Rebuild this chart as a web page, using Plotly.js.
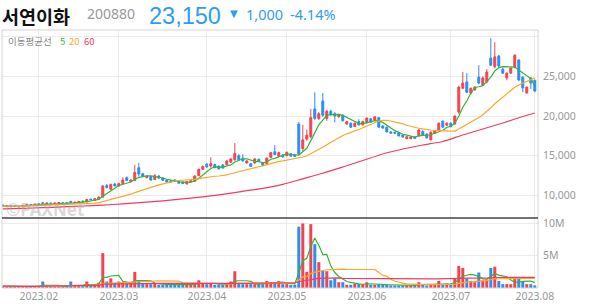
<!DOCTYPE html>
<html><head><meta charset="utf-8">
<script src="https://cdn.plot.ly/plotly-3.0.1.min.js"></script>
<style>html,body{margin:0;padding:0;background:#fff;overflow:hidden}#chart{width:594px;height:304px}</style>
</head><body><div id="chart"></div>
<script>
// ---- trading days (categories) ----
const janDays=[17,18,19,20,25,26,27,30,31];
const febDays=[1,2,3,6,7,8,9,10,13,14,15,16,17,20,21,22,23,24,27,28];
const marDays=[2,3,6,7,8,9,10,13,14,15,16,17,20,21,22,23,24,27,28,29,30,31];
const aprDays=[3,4,5,6,7,10,11,12,13,14,17,18,19,20,21,24,25,26,27,28];
const mayDays=[2,3,4,8,9,10,11,12,15,16,17,18,19,22,23,24,25,26,30,31];
const junDays=[1,2,5,7,8,9,12,13,14,15,16,19,20,21,22,23,26,27,28,29,30];
const julDays=[3,4,5,6,7,10,11,12,13,14,17,18,19,20,21,24,25,26,27,28,31];
const augDays=[1];

// ---- OHLC (KRW) ----
const openP=[
8800,8600,8700,8600,8680,8600,8750,8850,8750,
8950,9100,8950,9050,8950,9000,9100,9100,9250,9050,
9100,9300,9200,9550,9400,9550,9800,11250,10800,11450,
11200,11500,12250,11750,11900,13500,12750,12250,12400,12000,
12450,12200,11950,11850,11950,11800,11700,11450,11700,11800,
12500,13300,
13950,13700,13900,13700,13850,13900,14200,14500,15000,14700,
14100,14000,14100,14550,14100,14000,14800,15500,14950,15100,
15000,15250,15100,19000,15900,17100,17400,20900,19700,21900,
19700,20600,20300,19900,20100,19000,19100,18700,19300,18900,
19150,19650,19500,19800,18750,18600,18000,17950,17900,17600,
17150,17150,17350,17500,18050,17750,17000,17850,18200,19350,
18850,19100,19000,20500,23500,24300,22900,23300,24900,23900,
24300,27300,26200,27550,25900,24800,25400,26150,27050,24900,
22900,24800,24500];
const highP=[
8850,8720,8750,8720,8700,8800,8900,8900,8950,
9000,9200,9100,9100,9100,9150,9150,9150,9350,9200,
9300,9350,9550,9600,9650,9850,11300,11450,11500,11600,
11600,12300,12400,12050,13850,14100,12850,12550,12500,12700,
12550,12300,12050,11950,12050,11850,11750,11800,11950,12550,
13400,13800,
14050,14800,14000,13800,13950,14450,14700,16600,15200,15200,
14450,14100,14700,14650,14200,14800,15500,16350,15500,15200,
15500,15350,15200,19250,18900,18300,20900,23000,20500,22900,
20800,20800,20500,20300,20200,19400,19200,19200,19600,19400,
19800,19750,19950,19850,18850,18700,18100,18000,17950,17700,
17450,17400,17450,18350,18200,17800,18100,18250,19200,19450,
19200,19200,20100,23800,25550,25400,23600,23750,26400,25000,
25900,29800,29300,27700,26100,25500,26100,27800,27150,25000,
23700,24900,24600];
const lowP=[
8650,8550,8580,8560,8550,8580,8700,8700,8720,
8800,8900,8900,8900,8900,8950,8950,8950,9050,9000,
9050,9150,9150,9400,9350,9500,9750,10900,10700,11150,
11100,11400,11800,11650,11800,12400,12300,12150,11900,11950,
12100,11850,11650,11650,11750,11500,11450,11400,11650,11750,
12450,13200,
13500,13500,13450,13300,13400,13850,14100,14400,14400,14300,
14000,13600,14000,14250,13750,13950,14750,15100,14850,14800,
14950,14900,14850,15100,15600,16900,17200,19500,19500,19900,
19400,20000,19200,19800,19350,18900,18500,18600,18800,18800,
19100,19200,19450,18550,18400,17950,17800,17800,17450,17300,
17100,17100,17150,17450,17550,17200,16950,17800,18150,18550,
18800,18600,18950,20300,23400,22900,22700,23200,24000,23800,
24100,26300,26000,26100,25300,24500,25300,26000,24400,23000,
22850,23400,23000];
const closeP=[
8650,8700,8600,8680,8580,8750,8850,8750,8900,
8850,8950,9050,8950,9050,9100,9000,9000,9100,9150,
9250,9200,9500,9450,9600,9800,11200,11000,11400,11200,
11500,11950,11900,11950,12900,12700,12400,12450,11950,12500,
12200,11900,11700,11700,11800,11550,11500,11750,11850,12450,
13300,13650,
13600,14000,13500,13350,13450,14350,14600,15300,14500,14350,
14350,13650,14600,14350,13800,14700,15400,15150,15400,14850,
15450,14950,14900,15250,17000,17600,19800,19700,20300,20100,
20600,20200,20000,20200,19400,19300,18600,19100,18900,19300,
19750,19250,19900,18600,18500,18000,17850,17850,17500,17350,
17400,17350,17200,18250,17600,17250,17950,18150,19100,18600,
19100,18650,20000,23650,24150,23000,23500,23650,24150,24800,
25550,26400,27450,26300,25400,25400,26050,27650,24550,23550,
23650,24150,23150];
// 60-day moving average (trading-day number -> KRW);
// its early part depends on sessions before the visible window
const ma60Day=[0,5,10,15,20,25,30,35,40,45,50,55,60,65,70,75,80,85,90,95,100,105,110,115,120,125,130,133];
const ma60Val=[8320,8390,8470,8570,8680,8790,8950,9140,9330,9580,9830,10150,10530,10900,11400,12100,12800,13590,14400,15230,15850,16360,16800,17620,18370,19130,19940,20380];
// ---- volume (millions of shares) ----
const volumeM=[
0.3,0.25,0.2,0.2,0.25,0.3,0.3,0.2,0.3,
0.3,1.0,0.3,0.25,0.2,0.25,0.2,0.3,1.0,0.3,
0.3,0.3,1.0,0.5,0.6,0.8,5.4,1.0,1.5,0.8,
1.0,0.8,0.7,0.7,2.5,1.2,0.7,0.6,0.6,0.7,
0.5,0.5,0.5,0.5,0.5,0.5,0.5,0.6,0.6,0.6,
1.2,0.7,
0.6,0.7,0.5,0.5,0.5,0.7,1.0,2.6,0.8,0.6,
0.6,0.6,0.6,0.6,0.6,1.1,0.9,0.8,1.1,0.6,
0.6,0.5,0.5,9.5,10.0,2.5,9.9,6.8,4.0,2.7,
2.6,1.2,1.5,0.9,0.9,0.5,0.5,0.7,0.6,0.6,
0.9,0.5,0.5,0.6,0.5,0.5,0.4,0.4,0.4,0.4,
0.4,0.4,0.5,0.9,0.5,0.4,0.6,0.5,1.1,0.5,
0.7,0.5,1.4,3.4,3.1,1.5,1.1,0.9,2.4,1.2,
1.3,3.1,3.3,1.1,0.6,0.6,0.6,1.5,1.5,1.1,
0.6,0.6,0.4];
const priceMaPeriods=[5,20];
const volMaPeriods=[5,20,60];
const priceTicks=[10000,15000,20000,25000,30000];
const priceTickText=['10,000','15,000','20,000','25,000',''];
const volTicks=[5,10];
const volTickText=['5M','10M'];

// ---- header texts ----
const stockName='서연이화', stockCode='200880', lastPrice='23,150', chg='1,000', chgPct='-4.14%';

// ---- build categories ----
const months=[[1,janDays],[2,febDays],[3,marDays],[4,aprDays],[5,mayDays],[6,junDays],[7,julDays],[8,augDays]];
const dates=[];
months.forEach(([m,ds])=>ds.forEach(d=>dates.push('2023-'+String(m).padStart(2,'0')+'-'+String(d).padStart(2,'0'))));
const xi=dates.map((d,i)=>i);
const tickIdx=[], tickLbl=[];
dates.forEach((d,i)=>{ if(i>0 && d.slice(5,7)!==dates[i-1].slice(5,7)){ tickIdx.push(i); tickLbl.push('2023.'+d.slice(5,7)); }});

function movingAvg(arr,n){ return arr.map((_,i)=>{const s=Math.max(0,i-n+1);let t=0;for(let k=s;k<=i;k++)t+=arr[k];return t/(i-s+1);}); }

const UP='#f2444f', DN='#2b8ef0';
const MAC=['#35b43a','#ffa52a','#f43a62'];

const traces=[];
traces.push({type:'candlestick',x:xi,open:openP,high:highP,low:lowP,close:closeP,xaxis:'x',yaxis:'y',
  increasing:{line:{color:UP,width:1},fillcolor:UP},decreasing:{line:{color:DN,width:1},fillcolor:DN},
  whiskerwidth:0,hoverinfo:'skip',showlegend:false});
priceMaPeriods.forEach((n,k)=>traces.push({type:'scatter',mode:'lines',x:xi,y:movingAvg(closeP,n),xaxis:'x',yaxis:'y',
  line:{color:MAC[k],width:1.2},hoverinfo:'skip',showlegend:false}));
traces.push({type:'scatter',mode:'lines',x:ma60Day,y:ma60Val,xaxis:'x',yaxis:'y',
  line:{color:MAC[2],width:1.2,shape:'spline',smoothing:0.6},hoverinfo:'skip',showlegend:false});
traces.push({type:'bar',x:xi,y:volumeM,xaxis:'x2',yaxis:'y2',
  marker:{color:closeP.map((c,i)=>c>=openP[i]?UP:DN),line:{width:0}},hoverinfo:'skip',showlegend:false});
volMaPeriods.forEach((n,k)=>traces.push({type:'scatter',mode:'lines',x:xi,y:movingAvg(volumeM,n),xaxis:'x2',yaxis:'y2',
  line:{color:MAC[k],width:1.2},hoverinfo:'skip',showlegend:false}));

const W=594,H=304,ML=2,MR=56,MT=30,MB=16;
const PW=W-ML-MR, PH=H-MT-MB;
const volFrac=70/PH;
const px=x=>(x-ML)/PW, py=y=>(H-MB-y)/PH;
const rng=[-0.2, dates.length-0.2];
const tf={family:'Noto Sans, sans-serif',size:10.5,color:'#999'};
const ann=(t,x,y,font,extra)=>Object.assign({text:t,x:px(x),y:py(y),xref:'paper',yref:'paper',xanchor:'left',yanchor:'middle',showarrow:false,font:font},extra||{});
const blue='#2f9cf2';
const annotations=[
  ann('<b>'+stockName+'</b>',0,0.5,{family:'Noto Sans CJK KR',size:18.5,color:'#111'},{yanchor:'top'}),
  ann(stockCode,85,13.5,{family:'Noto Sans',size:14,color:'#999'}),
  ann(lastPrice,147,0.5,{family:'Liberation Sans, Arial, sans-serif',size:23.5,color:blue},{yanchor:'top'}),
  ann('▼',228,13.5,{family:'DejaVu Sans',size:10,color:blue}),
  ann(chg,244,14,{family:'Noto Sans',size:14.5,color:blue}),
  ann(chgPct,288,14,{family:'Noto Sans',size:14.5,color:blue}),
  ann('이동평균선',6,41,{family:'Noto Sans CJK KR',size:9.5,color:'#888'}),
  ann('5',58,41,{family:'Noto Sans CJK KR',size:9.5,color:MAC[0]}),
  ann('20',67,41,{family:'Noto Sans CJK KR',size:9.5,color:MAC[1]}),
  ann('60',82,41,{family:'Noto Sans CJK KR',size:9.5,color:MAC[2]}),
  ann('<b>©PAXNet</b>',4,209,{family:'Noto Sans',size:17,color:'rgba(170,170,170,0.45)'})
];
const layout={width:W,height:H,margin:{l:ML,r:MR,t:MT,b:MB,pad:0},paper_bgcolor:'#fff',plot_bgcolor:'#fff',
  showlegend:false,bargap:0.25,
  xaxis:{domain:[0,1],anchor:'y',range:rng,tickvals:tickIdx,showticklabels:false,ticks:'',showgrid:true,gridcolor:'#ececec',zeroline:false,showline:false,rangeslider:{visible:false},fixedrange:true},
  yaxis:{domain:[volFrac,1],anchor:'x',side:'right',range:[7170,30830],tickvals:priceTicks,ticktext:priceTickText,ticks:'',ticklabelstandoff:4,showgrid:true,gridcolor:'#ececec',zeroline:false,tickfont:tf,fixedrange:true},
  xaxis2:{domain:[0,1],anchor:'y2',range:rng,tickvals:tickIdx,ticktext:tickLbl,ticks:'',ticklabelstandoff:0,showgrid:true,gridcolor:'#ececec',zeroline:false,showline:false,tickfont:tf,fixedrange:true},
  yaxis2:{domain:[0,volFrac],anchor:'x2',side:'right',range:[0,10.85],tickvals:volTicks,ticktext:volTickText,ticks:'',ticklabelstandoff:4,showgrid:true,gridcolor:'#ececec',zeroline:false,tickfont:tf,fixedrange:true},
  shapes:[
    {type:'rect',xref:'paper',yref:'paper',x0:0,x1:1,y0:0,y1:1,line:{color:'#d4d4d4',width:1},layer:'above'},
    {type:'line',xref:'paper',yref:'paper',x0:0,x1:1,y0:volFrac,y1:volFrac,line:{color:'#444',width:1.3},layer:'above'}
  ],
  annotations:annotations};
Plotly.newPlot('chart',traces,layout,{staticPlot:true,displayModeBar:false});
</script></body></html>
